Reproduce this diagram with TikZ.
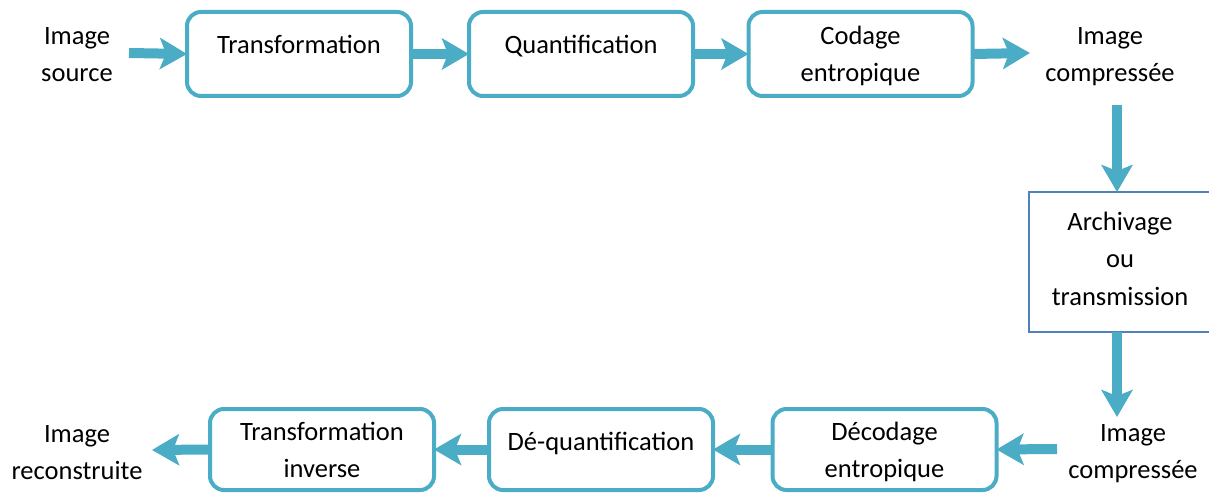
\documentclass[tikz,border=0pt]{standalone}
\usepackage{fontspec}
\setmainfont{Carlito}
\usetikzlibrary{arrows.meta}
\definecolor{aqua}{HTML}{4BACC6}
\definecolor{steel}{HTML}{4F81BD}
\begin{document}
\begin{tikzpicture}[x=1pt,y=-1pt,
  every node/.style={font=\fontsize{26.5}{37}\selectfont, inner sep=0pt, outer sep=0pt},
  stage/.style={draw=aqua, line width=4pt, rounded corners=14pt, fill=white,
                minimum width=224pt, minimum height=84pt},
  lowstage/.style={stage, minimum height=81pt},
  store/.style={draw=steel, line width=1.5pt, fill=white,
                minimum width=184pt, minimum height=140pt},
  txt/.style={align=center, anchor=base},
  flow/.style={draw=aqua, line width=10pt,
               -{Stealth[length=27pt, width=31pt, inset=6pt]}}
]
\useasboundingbox (0,0) rectangle (1209,494);

% compression chain
\node[stage] (tr) at (299,54) {};
\node[stage] (qu) at (581,54) {};
\node[stage] (co) at (860.5,54) {};
\node[txt] (trt) at (299,54) {Transformation};
\node[txt] (qut) at (581,54) {Quantification};
\node[txt] (cot) at (860.5,82) {Codage\\entropique};
\node[txt] (src) at (77,82) {Image\\source};
\node[txt] (cmp) at (1110,82) {Image\\compressée};
\coordinate (srcend) at (129,53);
\coordinate (cmpin) at (1030,53);

% storage / channel
\node[store] (ar) at (1121,262) {};
\node[txt] (art) at (1120,305) {Archivage\\ou\\transmission};
\coordinate (downa) at (1117,105);
\coordinate (downb) at (1117,417);

% decompression chain
\node[lowstage] (dc) at (884.5,449.5) {};
\node[lowstage] (dq) at (601,449.5) {};
\node[lowstage] (ti) at (322,449.5) {};
\node[txt] (dct) at (884.5,477) {Décodage\\entropique};
\node[txt] (dqt) at (601,450) {Dé-quantification};
\node[txt] (tit) at (322,477) {Transformation\\inverse};
\node[txt] (cmp2) at (1133,478) {Image\\compressée};
\node[txt] (rec) at (77,479) {Image\\reconstruite};
\coordinate (cmp2out) at (1057,449);
\coordinate (recin) at (152,450);

% connectors
\draw[flow] (srcend) -- (tr.west);
\draw[flow] (tr.east) -- (qu.west);
\draw[flow] (qu.east) -- (co.west);
\draw[flow] (co.east) -- (cmpin);
\draw[flow] (downa) -- (downa |- ar.north);
\draw[flow] (downa |- ar.south) -- (downb);
\draw[flow] (cmp2out) -- (dc.east);
\draw[flow] (dc.west) -- (dq.east);
\draw[flow] (dq.west) -- (ti.east);
\draw[flow] (ti.west) -- (recin);
\end{tikzpicture}
\end{document}
